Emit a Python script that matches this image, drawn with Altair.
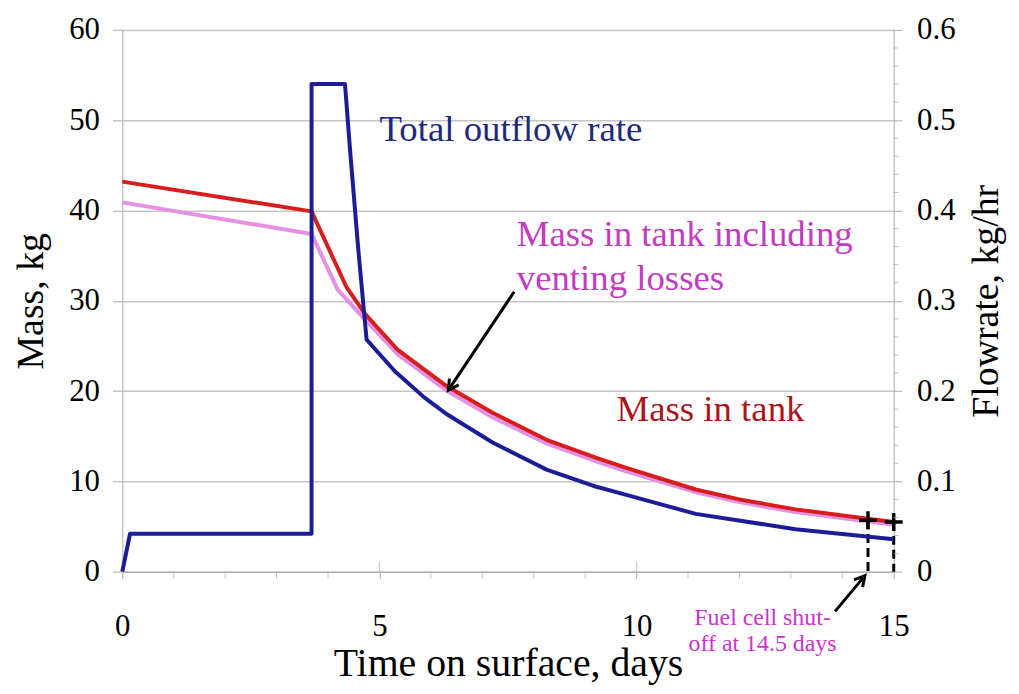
import altair as alt
import pandas as pd

SERIF = "Liberation Serif"

# ---- data ----
# Mass in tank (red), kg
red_day = [0, 3.68, 4.36, 4.71, 5.35, 6.32, 7.2, 8.25, 9.22, 9.8, 11.15, 12.0, 13.09, 14.57, 15]
red_mass = [43.2, 39.9, 31.5, 28.6, 24.6, 20.5, 17.6, 14.6, 12.6, 11.5, 9.1, 8.0, 6.9, 5.8, 5.5]

# Mass in tank including venting losses (violet), kg
pink_day = [0, 3.68, 4.19, 4.71, 5.35, 6.32, 7.2, 8.25, 9.22, 9.8, 11.15, 12.0, 13.09, 15]
pink_mass = [40.9, 37.4, 31.2, 28.0, 24.1, 20.0, 17.1, 14.2, 12.2, 11.1, 8.8, 7.7, 6.6, 5.2]

# Total outflow rate (blue), kg/hr
flow_day = [0, 0.15, 3.68, 3.68, 4.33, 4.43, 4.59, 4.75, 5.3, 5.87, 6.32, 7.2, 8.25,
            9.22, 9.8, 11.15, 13.09, 15]
flow_rate = [0, 0.042, 0.042, 0.54, 0.54, 0.466, 0.356, 0.257, 0.222, 0.193, 0.174,
             0.143, 0.113, 0.094, 0.085, 0.064, 0.047, 0.036]

# axes
x_ticks = [0, 5, 10, 15]
x_minor = [1, 2, 3, 4, 6, 7, 8, 9, 11, 12, 13, 14]
x_major_inner = [5, 10]
mass_ticks = [0, 10, 20, 30, 40, 50, 60]
flow_ticks = [0, 0.1, 0.2, 0.3, 0.4, 0.5, 0.6]
flow_minor = [0.02, 0.04, 0.06, 0.08, 0.12, 0.14, 0.16, 0.18, 0.22, 0.24, 0.26, 0.28,
              0.32, 0.34, 0.36, 0.38, 0.42, 0.44, 0.46, 0.48, 0.52, 0.54, 0.56, 0.58]

# fuel cell shut-off markers
shut_day = [14.5, 15]
shut_mass = [5.7, 5.5]
shut_base = [0, 0]

# annotations
label_text = ["Total outflow rate", "Mass in tank including", "venting losses", "Mass in tank"]
label_day = [5.0, 7.67, 7.67, 9.61]
label_mass = [47.7, 36.1, 31.2, 16.65]
label_color = ["#1e2a7a", "#c23cc2", "#c23cc2", "#a8161c"]

fuel_text = ["Fuel cell shut-\noff at 14.5 days"]
fuel_day = [12.45]
fuel_mass = [-5.9]

arrow_tail_day = [7.62, 13.86]
arrow_tail_mass = [31.0, -4.4]
arrow_tip_day = [6.34, 14.44]
arrow_tip_mass = [20.1, -0.44]
arrow_angle = [214, 40]

# ---- tables ----
red_df = pd.DataFrame({"day": red_day, "mass": red_mass})
pink_df = pd.DataFrame({"day": pink_day, "mass": pink_mass})
flow_df = pd.DataFrame({"day": flow_day, "flow": flow_rate, "idx": list(range(len(flow_day)))})
shut_df = pd.DataFrame({"day": shut_day, "mass": shut_mass, "base": shut_base})
label_df = pd.DataFrame({"day": label_day, "mass": label_mass, "label": label_text, "color": label_color})
fuel_df = pd.DataFrame({"day": fuel_day, "mass": fuel_mass, "label": fuel_text})
arrow_df = pd.DataFrame({"day": arrow_tail_day, "mass": arrow_tail_mass,
                         "tip_day": arrow_tip_day, "tip_mass": arrow_tip_mass})
head_df = pd.DataFrame({"day": arrow_tip_day, "mass": arrow_tip_mass, "angle": arrow_angle})

GRID = "#c6c6c6"
AXC = "#a8a8a8"

x_axis = alt.Axis(values=x_ticks, format="d", title="Time on surface, days", grid=False,
                  tickSize=7, tickColor=AXC, domainColor=AXC, labelFont=SERIF, labelFontSize=31,
                  labelColor="black", labelPadding=33, labelFlush=False,
                  titleFont=SERIF, titleFontSize=40, titleFontWeight="normal", titleColor="black",
                  titleX=388, titleY=92, titleBaseline="middle", titleAlign="center")
mass_axis = alt.Axis(values=mass_ticks, format="d", title="Mass, kg", orient="left", grid=True,
                     gridColor=GRID, gridWidth=1.5, tickSize=10, tickColor=GRID, tickWidth=1.5,
                     domainColor=AXC, labelFont=SERIF, labelFontSize=31, labelColor="black",
                     labelPadding=13, labelFlush=False,
                     titleFont=SERIF, titleFontSize=38, titleFontWeight="normal", titleColor="black",
                     titleX=-91, titleY=272.5, titleAngle=270, titleAlign="center",
                     titleBaseline="middle")
flow_axis = alt.Axis(values=flow_ticks, format=".1~f", title="Flowrate, kg/hr", orient="right",
                     grid=False, tickSize=8, tickColor=AXC, domainColor=AXC, labelFont=SERIF,
                     labelFontSize=31, labelColor="black", labelPadding=15, labelFlush=False,
                     titleFont=SERIF, titleFontSize=38, titleFontWeight="normal", titleColor="black",
                     titleX=93, titleY=272.5, titleAngle=270, titleAlign="center",
                     titleBaseline="middle")

x_scale = alt.Scale(domain=[0, 15], nice=False, zero=False)
mass_scale = alt.Scale(domain=[0, 60], nice=False)
flow_scale = alt.Scale(domain=[0, 0.6], nice=False)


def X(f="day"):
    return alt.X(f"{f}:Q", scale=x_scale, axis=x_axis)


def Y(f="mass"):
    return alt.Y(f"{f}:Q", scale=mass_scale, axis=mass_axis)


YF = alt.Y("flow:Q", scale=flow_scale, axis=flow_axis)

pink = alt.Chart(pink_df).mark_line(color="#e58fe5", strokeWidth=4, strokeJoin="round").encode(x=X(), y=Y())
red = alt.Chart(red_df).mark_line(color="#d61e1e", strokeWidth=4, strokeJoin="round").encode(x=X(), y=Y())

dashes = alt.Chart(shut_df).mark_rule(color="black", strokeWidth=3, strokeDash=[9, 5]).encode(
    x=X(), y=Y(), y2=alt.Y2("base:Q"))
crosses = alt.Chart(shut_df).mark_point(shape="M-1,0L1,0M0,-1L0,1", size=324, filled=False,
                                        color="black", strokeWidth=3.5, opacity=1).encode(x=X(), y=Y())

arrow_lines = alt.Chart(arrow_df).mark_rule(color="black", strokeWidth=3).encode(
    x=X(), y=Y(), x2=alt.X2("tip_day:Q"), y2=alt.Y2("tip_mass:Q"))
arrow_heads = alt.Chart(head_df).mark_point(shape="M-0.55,1L0,0L0.55,1", size=420, filled=False,
                                            color="black", strokeWidth=3, opacity=1).encode(
    x=X(), y=Y(), angle=alt.Angle("angle:Q", scale=None))

labels = alt.Chart(label_df).mark_text(align="left", baseline="alphabetic", font=SERIF,
                                       fontSize=37).encode(
    x=X(), y=Y(), text="label:N", color=alt.Color("color:N", scale=None))
fuel = alt.Chart(fuel_df).mark_text(align="center", baseline="alphabetic", font=SERIF,
                                    fontSize=24, lineHeight=26, lineBreak="\n",
                                    color="#cc33cc").encode(x=X(), y=Y(), text="label:N")

xminor = alt.Chart(pd.DataFrame({"day": x_minor})).mark_tick(
    orient="vertical", size=7, thickness=1, yOffset=3.5, color=AXC).encode(x=X(), y=alt.datum(0))
xinner = alt.Chart(pd.DataFrame({"day": x_major_inner})).mark_tick(
    orient="vertical", size=10, thickness=1, yOffset=-5, color=AXC).encode(x=X(), y=alt.datum(0))

mass_group = alt.layer(pink, red, dashes, crosses, arrow_lines, arrow_heads, labels, fuel,
                       xminor, xinner)

blue = alt.Chart(flow_df).mark_line(color="#1c1c96", strokeWidth=4, strokeJoin="round").encode(
    x=X(), y=YF, order="idx:Q")
fminor = alt.Chart(pd.DataFrame({"flow": flow_minor})).mark_tick(
    orient="horizontal", size=5, thickness=1, xOffset=2.5, color=AXC).encode(x=alt.datum(15), y=YF)

flow_group = alt.layer(fminor, blue)

chart = alt.layer(mass_group, flow_group).resolve_scale(y="independent").properties(
    width=776, height=545,
    autosize=alt.AutoSizeParams(type="none"),
    padding={"left": 115, "top": 20, "right": 118, "bottom": 113},
).configure_view(stroke=None)

chart.save("out.html", embed_options={"renderer": "svg", "actions": False})
